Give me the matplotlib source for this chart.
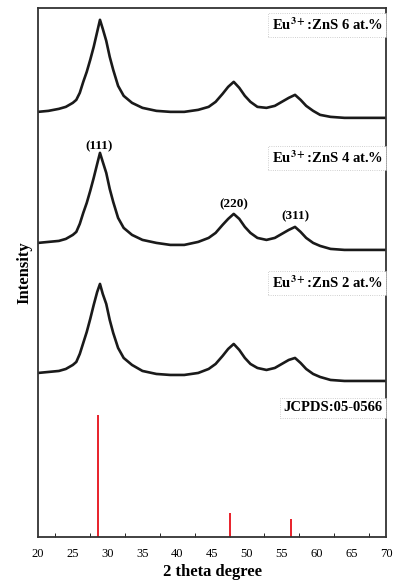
"""
XRD patterns of Eu3+:ZnS samples with the JCPDS 05-0566 reference lines.
"""
import matplotlib
matplotlib.use("Agg")
import matplotlib.pyplot as plt
from matplotlib.ticker import MultipleLocator

two_theta = [20, 21.5, 23, 24, 25, 25.5, 26, 26.5, 27, 27.5, 28, 28.5, 28.9, 29.3,
             29.8, 30.3, 30.8, 31.5, 32.3, 33.5, 35, 37, 39, 41, 43, 44.5, 45.5, 46.5,
             47.3, 48.1, 48.9, 49.7, 50.5, 51.5, 52.8, 54, 55, 56, 56.9, 57.7, 58.5,
             59.5, 60.5, 62, 64, 67, 70]

# stacked intensities (arbitrary units, already offset)
eu6 = [425, 426, 428, 430, 434, 437, 444, 455, 465, 477, 490, 505, 517, 508,
       496, 480, 467, 451, 441, 434, 429, 426, 425, 425, 427, 430, 435, 443,
       450, 455, 449, 441, 435, 430, 429, 431, 435, 439, 442, 437, 431,
       426, 422, 420, 419, 419, 419]
eu4 = [294, 295, 296, 298, 302, 305, 313, 324, 334, 346, 359, 373, 384, 375,
       364, 348, 335, 319, 309, 302, 297, 294, 292, 292, 295, 299, 304, 312,
       318, 323, 318, 310, 304, 299, 297, 299, 303, 307, 310, 305, 299,
       294, 291, 288, 287, 287, 287]
eu2 = [164, 165, 166, 168, 172, 175, 183, 194, 205, 218, 232, 245, 253, 243,
       233, 217, 204, 189, 179, 172, 166, 163, 162, 162, 164, 168, 173, 181,
       188, 193, 187, 179, 173, 169, 167, 169, 173, 177, 179, 174, 168,
       163, 160, 157, 156, 156, 156]

# JCPDS 05-0566 reference lines
ref_pos = [28.56, 47.52, 56.3]
ref_height = [122, 24, 18]

sample_labels = [r"Eu$^{\mathbf{3+}}$:ZnS 6 at.%", r"Eu$^{\mathbf{3+}}$:ZnS 4 at.%",
                 r"Eu$^{\mathbf{3+}}$:ZnS 2 at.%"]
hkl_labels = ["(111)", "(220)", "(311)"]
hkl_pos = [(28.8, 385), (48.1, 327), (56.9, 315)]

plt.rcParams["font.family"] = ["Liberation Serif", "DejaVu Serif"]
plt.rcParams["mathtext.fontset"] = "stix"

fig = plt.figure(figsize=(3.94, 5.88), dpi=100)
ax = fig.add_axes([0.0964, 0.0867, 0.884, 0.9])

for y in (eu6, eu4, eu2):
    ax.plot(two_theta, y, color="#1a1a1a", lw=1.9, solid_joinstyle="round")

ax.vlines(ref_pos, 0, ref_height, color="#e8202a", lw=1.4)

box = dict(boxstyle="square,pad=0.25", fc="white", ec="#c0c0c0", lw=0.6, ls=":")
label_y = [512, 379, 254]
for txt, ly in zip(sample_labels, label_y):
    ax.text(69.5, ly, txt, ha="right", va="center", fontsize=10.5, fontweight="bold", bbox=box)
ax.text(69.5, 129, "JCPDS:05-0566", ha="right", va="center", fontsize=10.5,
        fontweight="bold", bbox=box)

for txt, (xp, yp) in zip(hkl_labels, hkl_pos):
    ax.text(xp, yp, txt, ha="center", va="bottom", fontsize=9.5, fontweight="bold")

ax.set_xlim(20, 70)
ax.set_ylim(0, 529)
ax.xaxis.set_major_locator(MultipleLocator(5))
ax.xaxis.set_minor_locator(MultipleLocator(2.5))
ax.tick_params(axis="x", which="major", length=0, labelsize=9, pad=8)
ax.tick_params(axis="x", which="minor", direction="in", length=3)
ax.set_yticks([])
for s in ax.spines.values():
    s.set_color("#333333")
    s.set_linewidth(1.3)

ax.set_xlabel("2 theta degree", fontsize=12, fontweight="bold", labelpad=3)
ax.set_ylabel("Intensity", fontsize=12, fontweight="bold", labelpad=4)

fig.savefig("out.png", dpi=100)
